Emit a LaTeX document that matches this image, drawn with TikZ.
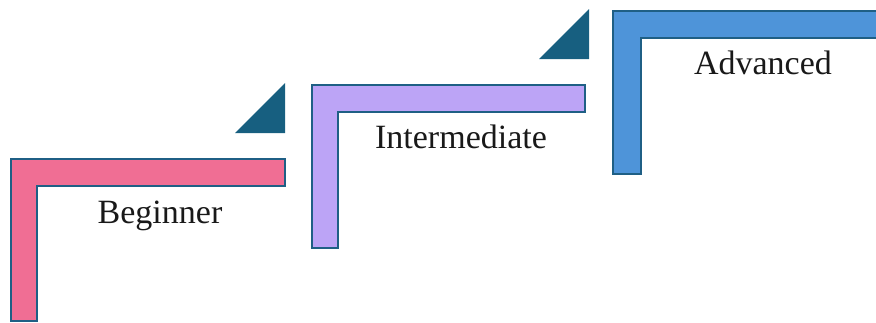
\documentclass[tikz,border=0pt]{standalone}
\usepackage{fontspec}
\setmainfont{Liberation Serif}
\definecolor{pinkL}{HTML}{F06E94}
\definecolor{lavL}{HTML}{BCA4F6}
\definecolor{blueL}{HTML}{4E94D9}
\definecolor{triC}{HTML}{175F80}
\definecolor{edgeC}{HTML}{1F5F85}
\tikzset{
  lshape/.style={draw=edgeC, line width=1.5pt, line join=miter},
  tri/.style={fill=triC},
  lbl/.style={font=\fontsize{34}{37}\selectfont, text=black!90, anchor=base, inner sep=0pt}
}
\begin{document}
\begin{tikzpicture}[x=1pt,y=-1pt]
\useasboundingbox (0,0) rectangle (876,322);
\clip (0,0) rectangle (876,322);
% Beginner
\draw[lshape, fill=pinkL] (11,159) -- (285,159) -- (285,186) -- (37,186) -- (37,321) -- (11,321) -- cycle;
\fill[tri] (285,83) -- (285,133) -- (235,133) -- cycle;
\node[lbl] (beg) at (160,223) {Beginner};
% Intermediate
\draw[lshape, fill=lavL] (312,85) -- (585,85) -- (585,112) -- (338,112) -- (338,248) -- (312,248) -- cycle;
\fill[tri] (589,9) -- (589,59) -- (539,59) -- cycle;
\node[lbl] (int) at (461,148) {Intermediate};
% Advanced
\draw[lshape, fill=blueL] (613,11) -- (880,11) -- (880,38) -- (641,38) -- (641,174) -- (613,174) -- cycle;
\node[lbl] (adv) at (763,74) {Advanced};
\end{tikzpicture}
\end{document}
